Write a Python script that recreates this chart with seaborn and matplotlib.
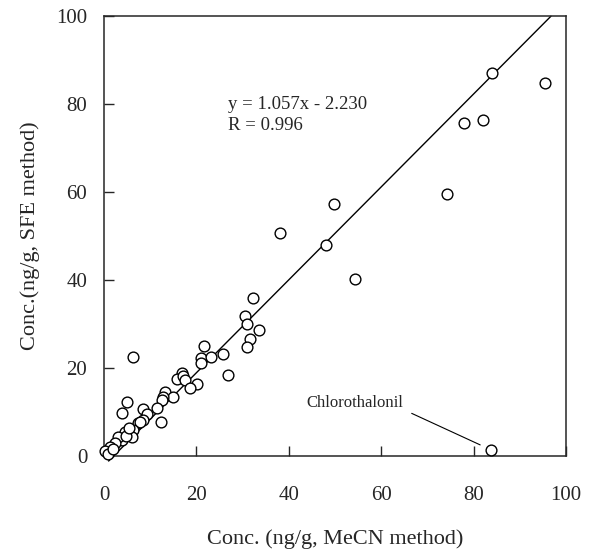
import numpy as np
import pandas as pd
import seaborn as sns
import matplotlib
matplotlib.use('Agg')
import matplotlib.pyplot as plt

# values (ng/g)
mecn = [95.5, 83.9, 78.0, 82.1, 74.2, 49.8, 38.1, 48.0, 54.3, 83.8,
        32.3, 30.5, 30.9, 33.6, 31.7, 30.9, 21.7, 21.1, 23.2, 25.8,
        21.1, 26.9, 16.8, 15.7, 17.2, 17.5, 20.2, 18.6, 13.2, 15.0,
        12.8, 12.5, 11.4, 6.2,
        4.9, 4.0, 8.5, 9.4, 12.3, 7.4, 8.5, 7.8, 6.3, 5.3,
        4.5, 6.0, 3.8, 3.1, 2.4, 1.3, 0.2, 0.8, 2.0, 4.8, 5.5]
sfe = [84.8, 87.0, 75.8, 76.4, 59.5, 57.3, 50.6, 48.0, 40.2, 1.4,
       35.8, 31.7, 30.0, 28.6, 26.5, 24.7, 25.0, 22.2, 22.6, 23.2,
       21.1, 18.4, 18.9, 17.4, 18.2, 17.3, 16.4, 15.4, 14.6, 13.5,
       13.5, 12.7, 10.8, 22.4,
       12.3, 9.8, 10.6, 9.5, 7.6, 7.4, 8.2, 7.6, 5.9, 5.2,
       5.5, 4.4, 3.6, 4.4, 2.9, 2.1, 1.0, 0.5, 1.5, 4.6, 6.3]
slope = 1.057
intercept = -2.230
r_value = 0.996

df = pd.DataFrame({'mecn': mecn, 'sfe': sfe})

sns.set_style('ticks')
plt.rcParams['font.family'] = ['Liberation Serif', 'DejaVu Serif']

fig = plt.figure(figsize=(6.01, 5.58), dpi=100)
ax = fig.add_axes([0.173, 0.183, 0.769, 0.788])

xs = np.array([1.0, (100 - intercept) / slope])
ax.plot(xs, slope * xs + intercept, color='black', lw=1.0, clip_on=False, zorder=1)

sns.scatterplot(data=df, x='mecn', y='sfe', ax=ax, s=60, marker='o',
                facecolor='white', edgecolor='black', linewidth=1.0,
                clip_on=False, zorder=3, legend=False)

ax.set_xlim(0, 100)
ax.set_ylim(0, 100)
ax.set_xticks(range(0, 101, 20))
ax.set_yticks(range(0, 101, 20))
ax.tick_params(direction='in', length=7, width=1, labelsize=15)
ax.tick_params(axis='x', pad=22)
ax.tick_params(axis='y', pad=12)
for sp in ax.spines.values():
    sp.set_visible(True)
    sp.set_linewidth(1.1)

ax.set_xlabel('Conc. (ng/g, MeCN method)', fontsize=16, labelpad=17)
ax.set_ylabel('Conc.(ng/g, SFE method)', fontsize=16, labelpad=12)

ax.text(26.8, 77.6, 'y = 1.057x - 2.230\nR = %.3f' % r_value, fontsize=13.5,
        va='center', ha='left', linespacing=1.3)
ax.annotate('Chlorothalonil', xy=(81.4, 2.5), xytext=(54.3, 12.0),
            fontsize=12, ha='center', va='center',
            arrowprops=dict(arrowstyle='-', color='black', lw=0.8,
                            relpos=(1.0, 0.1), shrinkA=4, shrinkB=0))

fig.savefig('out.png', dpi=100)
